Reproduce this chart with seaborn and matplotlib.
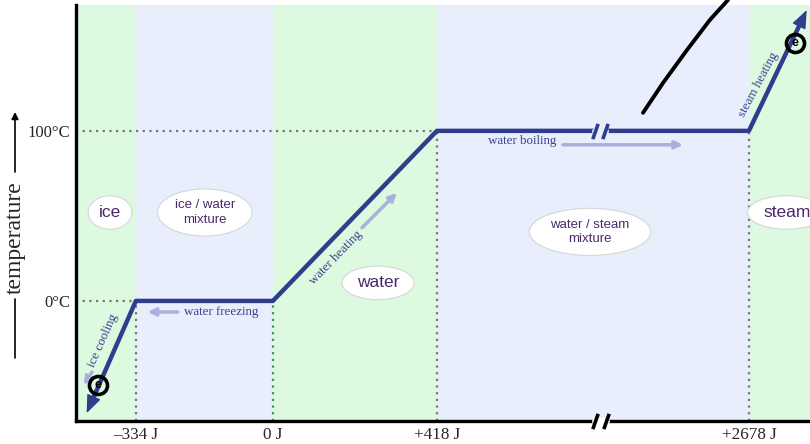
import numpy as np
import pandas as pd
import seaborn as sns
import matplotlib.pyplot as plt

# data
energy = [-454, -334, 0, 418, 2678, 2819]      # J
temp = [-66, 0, 0, 100, 100, 171]              # deg C
tick_energy = [-334, 0, 418, 2678]
tick_labels = ["\u2013334 J", "0 J", "+418 J", "+2678 J"]
temp_ticks = [0, 100]
temp_labels = ["0\u00b0C", "100\u00b0C"]
phase_bounds = [-480, -334, 0, 418, 2678, 2827]
phase_names = ["ice", "ice / water\nmixture", "water", "water / steam\nmixture", "steam"]
phase_label_e = [-397, -166, 268, 1527, 2771]
phase_label_t = [52, 52, 10.6, 40.6, 52]
scribble_e = [1911, 2056, 2230, 2396, 2527]
scribble_t = [110.6, 128.2, 147.6, 165.3, 177]
break_e = 1600

# shorten the curve ends a bit so the arrowheads end in a sharp tip
line_e = list(energy)
line_t = list(temp)
for a, b in [(0, 1), (-1, -2)]:
    line_e[a] = energy[a] + 0.07 * (energy[b] - energy[a])
    line_t[a] = temp[a] + 0.07 * (temp[b] - temp[a])
df = pd.DataFrame({"energy": line_e, "temp": line_t})

sns.set_theme(style="white")
plt.rcParams["font.family"] = ["Liberation Sans", "DejaVu Sans"]

curve_c = "#2f3d8c"
arrow_c = "#aab0dc"
proc_c = "#3c3f92"
label_c = "#4a2a6a"
green = "#ddf9e0"
lav = "#e8eefc"

# broken energy axis: piecewise linear scale
E_KN = [-2000, -334, 0, 418, 2678, 5000]
P_KN = [-547, 136, 273, 437, 749, 1701]
fwd = lambda x: np.interp(x, E_KN, P_KN)
inv = lambda p: np.interp(p, P_KN, E_KN)

fig = plt.figure(figsize=(8.1, 4.44), dpi=100)
ax = fig.add_axes([76 / 810, 23 / 444, 1 - 76 / 810, 416 / 444])
ax.set_xscale("function", functions=(fwd, inv))
ax.set_xlim(phase_bounds[0], phase_bounds[-1])
ax.set_ylim(-70.6, 174)

# phase bands
for i in range(len(phase_bounds) - 1):
    ax.axvspan(phase_bounds[i], phase_bounds[i + 1], color=green if i % 2 == 0 else lav, lw=0, zorder=0)

# guide lines
dot = dict(ls=(0, (1, 2)), lw=1.6, zorder=1)
ax.plot([phase_bounds[0], 418], [100, 100], color="#777777", **dot)
ax.plot([phase_bounds[0], -334], [0, 0], color="#777777", **dot)
ax.plot([-334, -334], [-70.6, 0], color="#777777", **dot)
ax.plot([0, 0], [-70.6, 0], color="#2e9e3e", **dot)
ax.plot([418, 418], [-70.6, 100], color="#777777", **dot)
ax.plot([2678, 2678], [-70.6, 100], color="#777777", **dot)

# heating curve
sns.lineplot(data=df, x="energy", y="temp", ax=ax, color=curve_c, lw=3.2, zorder=3,
             solid_joinstyle="round", solid_capstyle="butt")
for a, b in [(0, 1), (-1, -2)]:
    e0, t0 = energy[a], temp[a]
    e1, t1 = energy[b], temp[b]
    ax.annotate("", xy=(e0, t0), xytext=(e0 + 0.14 * (e1 - e0), t0 + 0.14 * (t1 - t0)),
                arrowprops=dict(arrowstyle="-|>,head_length=0.8,head_width=0.32", color=curve_c,
                                lw=1, mutation_scale=14, shrinkA=0, shrinkB=0), zorder=4)

# axis break marks
ax.plot([break_e - 36, break_e + 36], [100, 100], color=lav, lw=5, zorder=3.5)
ax.plot([break_e - 36, break_e + 36], [100, 100], ls="none", marker=[(-0.35, -1), (0.35, 1)],
        ms=11, mew=2.6, color=curve_c, zorder=4)
ax.plot([break_e - 40, break_e + 40], [-70.6, -70.6], color="white", lw=5, zorder=5, clip_on=False)
ax.plot([break_e - 40, break_e + 40], [-70.6, -70.6], ls="none", marker=[(-0.35, -1), (0.35, 1)],
        ms=11, mew=2.6, color="black", zorder=6, clip_on=False)

# phase labels
for name, e, t in zip(phase_names, phase_label_e, phase_label_t):
    ax.text(e, t, name, ha="center", va="center", color=label_c,
            fontsize=12.5 if "\n" not in name else 9.5, linespacing=1.3, zorder=5,
            bbox=dict(boxstyle="ellipse,pad=0.25", fc="white", ec="#d6d6d6", lw=0.8))

# process labels and arrows
serif = ["Liberation Serif", "DejaVu Serif"]
proc = [("water freezing", -127, -6.5, 0), ("ice cooling", -414, -23, 66),
        ("water heating", 161, 25.3, 46), ("water boiling", 1034, 94, 0),
        ("steam heating", 2702, 127, 62)]
for txt, e, t, rot in proc:
    ax.text(e, t, txt, ha="center", va="center", rotation=rot, rotation_mode="anchor",
            color=proc_c, fontsize=9.4, family=serif, zorder=5)
arrows = [((-232, -6.5), (-305, -6.5)), ((-441, -41.8), (-461, -49.4)),
          ((227, 43), (316, 63.5)), ((1331, 91.8), (2200, 91.8))]
for start, end in arrows:
    ax.annotate("", xy=end, xytext=start,
                arrowprops=dict(arrowstyle="-|>", color=arrow_c, lw=2.5, mutation_scale=11,
                                shrinkA=0, shrinkB=0), zorder=2)

# hand-drawn marks
ax.plot(scribble_e, scribble_t, color="black", lw=2.8, solid_capstyle="round", clip_on=False, zorder=6)
for e, t in [(-427, -49.4), (2790, 151.8)]:
    ax.plot([e], [t], marker="o", ms=13, mfc="none", mec="black", mew=2.6, zorder=6)
    ax.text(e, t, "e", ha="center", va="center", fontsize=9, fontweight="bold", color="black", zorder=6)

# axes styling
ax.set_xticks(tick_energy)
ax.set_xticklabels(tick_labels, family=serif, fontsize=12.3)
ax.set_yticks(temp_ticks)
ax.set_yticklabels(temp_labels, family=serif, fontsize=12)
ax.tick_params(length=0, pad=4)
ax.set_xlabel("")
ax.set_ylabel("")
for s in ["top", "right"]:
    ax.spines[s].set_visible(False)
for s in ["left", "bottom"]:
    ax.spines[s].set_color("black")
    ax.spines[s].set_linewidth(2.4)

# y label with arrow
fig.text(15 / 810, 1 - 238 / 444, "temperature", rotation=90, ha="center", va="center",
         family=serif, fontsize=17)
fig.add_artist(plt.Line2D([15 / 810, 15 / 810], [1 - 299 / 444, 1 - 358 / 444], color="black", lw=1.2))
ax.annotate("", xy=(15 / 810, 1 - 112 / 444), xytext=(15 / 810, 1 - 172 / 444),
            xycoords="figure fraction", textcoords="figure fraction",
            arrowprops=dict(arrowstyle="-|>", color="black", lw=1.2, mutation_scale=10, shrinkA=0, shrinkB=0))

fig.savefig("out.png", dpi=100)
